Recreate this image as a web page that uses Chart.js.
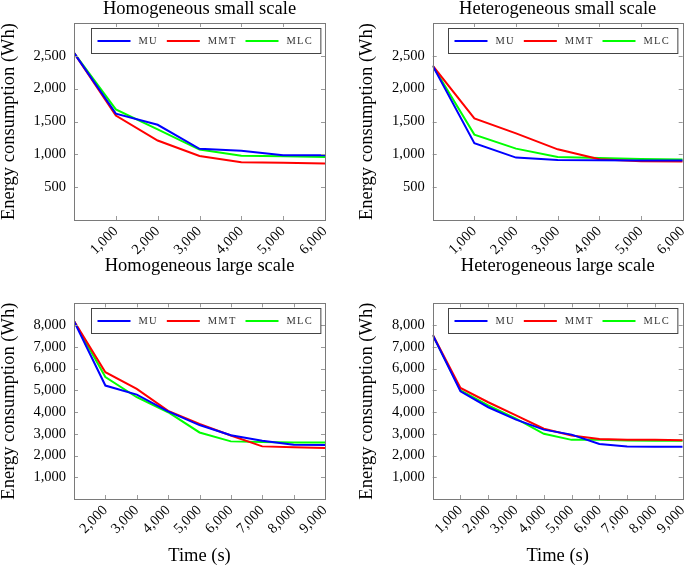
<!DOCTYPE html>
<html>
<head>
<meta charset="utf-8">
<script src="https://cdn.jsdelivr.net/npm/chart.js@4/dist/chart.umd.min.js"></script>
<style>
  body { margin: 0; background: #fff; width: 685px; height: 567px; position: relative; overflow: hidden; }
  .panel { position: absolute; }
</style>
</head>
<body>
<div class="panel" style="left:0;top:0;width:340px;height:255px"><canvas id="homSmall"></canvas></div>
<div class="panel" style="left:340px;top:0;width:345px;height:255px"><canvas id="hetSmall"></canvas></div>
<div class="panel" style="left:0;top:250px;width:340px;height:317px"><canvas id="homLarge"></canvas></div>
<div class="panel" style="left:340px;top:250px;width:345px;height:317px"><canvas id="hetLarge"></canvas></div>
<script>
const seriesNames = ['MU', 'MMT', 'MLC'];

// small scale runs
const smallTimes = [0, 1000, 2000, 3000, 4000, 5000, 6000];
const homSmallMU  = [2545, 1620, 1450, 1085, 1055, 985, 985];
const homSmallMMT = [2545, 1590, 1210, 975, 880, 870, 862];
const homSmallMLC = [2545, 1685, 1380, 1072, 980, 972, 958];

const hetSmallMU  = [2350, 1168, 950, 913, 908, 905, 905];
const hetSmallMMT = [2350, 1546, 1320, 1076, 924, 895, 890];
const hetSmallMLC = [2350, 1300, 1087, 960, 945, 930, 920];

// large scale runs
const homLargeTimes = [1000, 2000, 3000, 4000, 5000, 6000, 7000, 8000, 9000];
const homLargeMU  = [8180, 5217, 4800, 4030, 3400, 2930, 2680, 2490, 2480];
const homLargeMMT = [8180, 5830, 5060, 4050, 3450, 2920, 2420, 2380, 2350];
const homLargeMLC = [8180, 5610, 4680, 3990, 3060, 2650, 2620, 2600, 2600];

const hetLargeTimes = [0, 1000, 2000, 3000, 4000, 5000, 6000, 7000, 8000, 9000];
const hetLargeMU  = [7550, 4955, 4220, 3650, 3190, 2960, 2530, 2420, 2400, 2400];
const hetLargeMMT = [7550, 5110, 4450, 3850, 3230, 2920, 2760, 2720, 2720, 2700];
const hetLargeMLC = [7550, 5000, 4300, 3700, 3000, 2720, 2720, 2690, 2680, 2680];

// tick labels
const smallXTicks = [1000, 2000, 3000, 4000, 5000, 6000];
const smallYTicks = [500, 1000, 1500, 2000, 2500];
const homLargeXTicks = [2000, 3000, 4000, 5000, 6000, 7000, 8000, 9000];
const hetLargeXTicks = [1000, 2000, 3000, 4000, 5000, 6000, 7000, 8000, 9000];
const largeYTicks = [1000, 2000, 3000, 4000, 5000, 6000, 7000, 8000];

const seriesColors = ['#0000ff', '#ff0000', '#00ff00'];

Chart.defaults.font.family = '"Liberation Serif", "Times New Roman", serif';
Chart.defaults.color = '#000';

// pgfplots-like frame with small inner tick marks
const frameTicks = {
  id: 'frameTicks',
  afterDatasetsDraw(chart) {
    const { ctx, chartArea: a, scales: { x, y } } = chart;
    ctx.save();
    ctx.strokeStyle = '#9a9a9a';
    ctx.lineWidth = 1;
    ctx.beginPath();
    x.ticks.forEach(t => {
      const px = Math.round(x.getPixelForValue(t.value)) + 0.5;
      ctx.moveTo(px, a.bottom); ctx.lineTo(px, a.bottom - 4);
      ctx.moveTo(px, a.top); ctx.lineTo(px, a.top + 4);
    });
    y.ticks.forEach(t => {
      const py = Math.round(y.getPixelForValue(t.value)) + 0.5;
      ctx.moveTo(a.left, py); ctx.lineTo(a.left + 4, py);
      ctx.moveTo(a.right, py); ctx.lineTo(a.right - 4, py);
    });
    ctx.stroke();
    ctx.strokeStyle = '#7a7a7a';
    ctx.strokeRect(Math.round(a.left) + 0.5, Math.round(a.top) + 0.5,
                   Math.round(a.right - a.left), Math.round(a.bottom - a.top));
    ctx.restore();
  }
};

// boxed horizontal legend in the top right corner of the plot
const boxLegend = {
  id: 'boxLegend',
  afterDraw(chart) {
    const { ctx, chartArea: a } = chart;
    const sets = chart.data.datasets;
    ctx.save();
    ctx.font = '10.5px "Liberation Serif", serif';
    if ('letterSpacing' in ctx) ctx.letterSpacing = '1.2px';
    const widths = sets.map(d => ctx.measureText(d.label).width);
    const lineLen = 33, gapText = 8, gapItem = 9, padL = 6, padR = 8, h = 25;
    const w = padL + padR + widths.reduce((s, tw) => s + lineLen + gapText + tw, 0) + gapItem * (sets.length - 1);
    const bx = Math.round(a.right - 5 - w) + 0.5;
    const by = Math.round(a.top + 4.5) + 0.5;
    ctx.fillStyle = '#fff';
    ctx.fillRect(bx, by, w, h);
    ctx.strokeStyle = '#444';
    ctx.lineWidth = 1;
    ctx.strokeRect(bx, by, w, h);
    let cx = bx + padL;
    const cy = by + h / 2;
    sets.forEach((d, i) => {
      ctx.strokeStyle = d.borderColor;
      ctx.lineWidth = 2;
      ctx.beginPath();
      ctx.moveTo(cx, cy); ctx.lineTo(cx + lineLen, cy);
      ctx.stroke();
      cx += lineLen + gapText;
      ctx.fillStyle = '#333';
      ctx.textBaseline = 'middle';
      ctx.textAlign = 'left';
      ctx.fillText(d.label, cx, cy + 0.5);
      cx += widths[i] + gapItem;
    });
    ctx.restore();
  }
};

function makePanel(id, opts) {
  const datasets = opts.series.map((vals, i) => ({
    label: seriesNames[i],
    data: opts.times.map((t, j) => ({ x: t, y: vals[j] })),
    borderColor: seriesColors[i],
    backgroundColor: seriesColors[i],
    borderWidth: 2,
    pointRadius: 0,
    tension: 0
  }));

  new Chart(document.getElementById(id), {
    type: 'line',
    data: { datasets: datasets },
    options: {
      responsive: true,
      maintainAspectRatio: false,
      animation: false,
      layout: { padding: { left: 0, right: opts.padRight, top: 0, bottom: 0 } },
      plugins: {
        legend: { display: false },
        tooltip: { enabled: false },
        title: {
          display: true,
          fullSize: false,
          text: opts.title,
          font: { size: 18.5, weight: 'normal', lineHeight: 1 },
          color: '#000',
          padding: opts.titlePad
        }
      },
      scales: {
        x: {
          type: 'linear',
          min: opts.xMin,
          max: opts.xMax,
          grid: { display: false, drawTicks: false },
          border: { display: false },
          afterBuildTicks: s => { s.ticks = opts.xTicks.map(v => ({ value: v })); },
          afterFit: s => { s.height = opts.xHeight; s.paddingLeft = 0; s.paddingRight = 0; },
          ticks: {
            autoSkip: false,
            minRotation: 45,
            maxRotation: 45,
            padding: 3,
            font: { size: 14.5 },
            callback: v => v.toLocaleString('en-US')
          },
          title: {
            display: opts.xTitle !== '',
            text: opts.xTitle,
            font: { size: 18.5, lineHeight: 1 },
            padding: { top: 0, bottom: 2 }
          }
        },
        y: {
          min: 0,
          max: opts.yMax,
          grid: { display: false, drawTicks: false },
          border: { display: false },
          afterBuildTicks: s => { s.ticks = opts.yTicks.map(v => ({ value: v })); },
          afterFit: s => { s.width = opts.yWidth; s.paddingTop = 0; s.paddingBottom = 0; },
          ticks: {
            padding: 8,
            font: { size: 14.5 },
            callback: v => v.toLocaleString('en-US')
          },
          title: {
            display: true,
            text: 'Energy consumption (Wh)',
            font: { size: 18.5, lineHeight: 1 },
            padding: { top: opts.yTitlePad, bottom: 0 }
          }
        }
      }
    },
    plugins: [frameTicks, boxLegend]
  });
}

makePanel('homSmall', {
  title: 'Homogeneous small scale', times: smallTimes,
  series: [homSmallMU, homSmallMMT, homSmallMLC],
  xMin: 0, xMax: 6000, xTicks: smallXTicks, yMax: 3000, yTicks: smallYTicks,
  xTitle: '', yWidth: 74, yTitlePad: 0, padRight: 15, xHeight: 35,
  titlePad: { top: 0, bottom: 4.5 }
});
makePanel('hetSmall', {
  title: 'Heterogeneous small scale', times: smallTimes,
  series: [hetSmallMU, hetSmallMMT, hetSmallMLC],
  xMin: 0, xMax: 6000, xTicks: smallXTicks, yMax: 3000, yTicks: smallYTicks,
  xTitle: '', yWidth: 92.7, yTitlePad: 18, padRight: 2.3, xHeight: 35,
  titlePad: { top: 0, bottom: 4.5 }
});
makePanel('homLarge', {
  title: 'Homogeneous large scale', times: homLargeTimes,
  series: [homLargeMU, homLargeMMT, homLargeMLC],
  xMin: 1000, xMax: 9000, xTicks: homLargeXTicks, yMax: 9000, yTicks: largeYTicks,
  xTitle: 'Time (s)', yWidth: 74, yTitlePad: 0, padRight: 15, xHeight: 68,
  titlePad: { top: 7, bottom: 27.8 }
});
makePanel('hetLarge', {
  title: 'Heterogeneous large scale', times: hetLargeTimes,
  series: [hetLargeMU, hetLargeMMT, hetLargeMLC],
  xMin: 0, xMax: 9000, xTicks: hetLargeXTicks, yMax: 9000, yTicks: largeYTicks,
  xTitle: 'Time (s)', yWidth: 92.7, yTitlePad: 18, padRight: 2.3, xHeight: 68,
  titlePad: { top: 7, bottom: 27.8 }
});
</script>
</body>
</html>
